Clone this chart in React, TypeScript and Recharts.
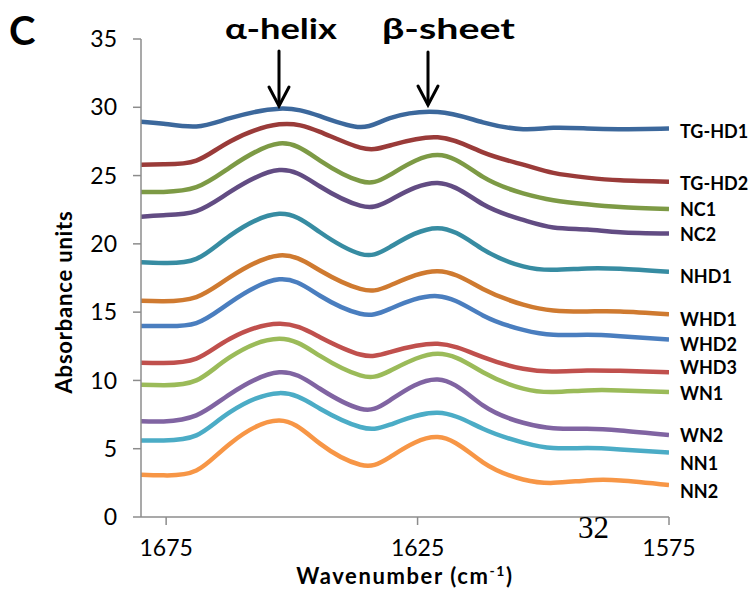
import React from 'react';
import { LineChart, Line, XAxis, YAxis } from 'recharts';

const wavenumbers = [1680, 1675.5, 1669, 1662.3, 1652.5, 1644.4, 1636.4, 1630.5, 1621, 1612, 1604, 1598, 1591.3, 1584.7, 1575];

const seriesNames = ['TG-HD1', 'TG-HD2', 'NC1', 'NC2', 'NHD1', 'WHD1', 'WHD2', 'WHD3', 'WN1', 'WN2', 'NN1', 'NN2'];

const tgHd1 = [28.95, 28.8, 28.6, 29.2, 29.9, 29.35, 28.55, 29.2, 29.65, 28.9, 28.4, 28.5, 28.45, 28.4, 28.45];
const tgHd2 = [25.8, 25.83, 26.1, 27.5, 28.75, 28.2, 27.05, 27.2, 27.8, 26.7, 25.8, 25.2, 24.85, 24.65, 24.55];
const nc1 = [23.8, 23.8, 24.15, 25.6, 27.35, 26.1, 24.6, 25.05, 26.5, 24.9, 23.7, 23.2, 22.9, 22.7, 22.55];
const nc2 = [21.98, 22.1, 22.4, 23.8, 25.4, 24.2, 22.8, 23.2, 24.46, 22.9, 21.75, 21.2, 21.05, 20.85, 20.75];
const nhd1 = [18.66, 18.6, 18.9, 20.6, 22.2, 20.85, 19.27, 19.76, 21.15, 19.6, 18.35, 18.1, 18.2, 18.17, 17.95];
const whd1 = [15.83, 15.8, 16.1, 17.56, 19.15, 18.05, 16.7, 16.95, 18.0, 16.7, 15.55, 15.12, 15.05, 15.05, 14.85];
const whd2 = [13.98, 13.98, 14.2, 15.7, 17.4, 16.2, 14.88, 15.24, 16.17, 14.76, 13.7, 13.34, 13.34, 13.24, 13.0];
const whd3 = [11.3, 11.28, 11.6, 13.05, 14.15, 13.17, 11.9, 12.07, 12.68, 11.7, 10.85, 10.66, 10.73, 10.7, 10.6];
const wn1 = [9.68, 9.65, 10.0, 11.7, 13.05, 11.8, 10.37, 10.7, 11.95, 10.6, 9.4, 9.15, 9.27, 9.27, 9.15];
const wn2 = [7.02, 7.0, 7.44, 9.0, 10.6, 9.39, 7.93, 8.54, 10.07, 8.17, 6.9, 6.5, 6.46, 6.34, 6.0];
const nn1 = [5.61, 5.61, 5.98, 7.68, 9.07, 7.93, 6.59, 6.76, 7.63, 6.46, 5.45, 5.05, 5.05, 4.95, 4.72];
const nn2 = [3.1, 3.05, 3.4, 5.37, 7.07, 5.37, 3.83, 4.39, 5.85, 4.0, 2.75, 2.5, 2.68, 2.68, 2.35];

const seriesValues = [tgHd1, tgHd2, nc1, nc2, nhd1, whd1, whd2, whd3, wn1, wn2, nn1, nn2];

const xTicks = [1675, 1625, 1575];
const yTicks = [0, 5, 10, 15, 20, 25, 30, 35];

const colors = ['#3C689C', '#9A3B39', '#7D9A45', '#624C83', '#378CA2', '#CF7A30', '#4A7EBF', '#C0504D', '#9BBB59', '#8064A2', '#4BACC6', '#F79646'];
const labelDy = [3, 1, 0, 0, 4, 5, 5, -5, 1, 0, 10, 6];

const FONT = "Lato, 'Open Sans', sans-serif";

const data = wavenumbers.map((w, i) => {
  const row: Record<string, number> = { w };
  seriesNames.forEach((n, s) => {
    row[n] = seriesValues[s][i];
  });
  return row;
});

const lastIndex = wavenumbers.length - 1;

const makeEndLabel = (name: string, dy: number) => (props: any) => {
  if (props.index !== lastIndex) return <g />;
  return (
    <text
      x={props.x + 11}
      y={props.y + dy}
      dominantBaseline="central"
      fontFamily={FONT}
      fontWeight="bold"
      fontSize={18}
      fill="#000"
    >
      {name}
    </text>
  );
};

const YTitle = () => (
  <text
    x={63}
    y={302}
    transform="rotate(-90 63 302)"
    textAnchor="middle"
    dominantBaseline="central"
    fontFamily={FONT}
    fontWeight="bold"
    fontSize={22}
    letterSpacing={0.8}
    fill="#000"
  >
    Absorbance units
  </text>
);

const XTitle = () => (
  <text
    x={405}
    y={584}
    textAnchor="middle"
    fontFamily={FONT}
    fontWeight="bold"
    fontSize={22}
    letterSpacing={1.6}
    fill="#000"
  >
    Wavenumber (cm
    <tspan dy={-8} fontSize={14}>-1</tspan>
    <tspan dy={8}>)</tspan>
  </text>
);

export default function App() {
  return (
    <div style={{ position: 'absolute', left: 0, top: 0, width: 753, height: 606, background: '#fff' }}>
      <LineChart
        width={753}
        height={606}
        data={data}
        margin={{ top: 39, right: 84, bottom: 29, left: 0 }}
      >
        <XAxis
          type="number"
          dataKey="w"
          domain={[1575, 1680]}
          reversed
          allowDataOverflow
          ticks={xTicks}
          height={60}
          tickSize={8}
          tickMargin={15}
          axisLine={{ stroke: '#8C8C8C', strokeWidth: 1.5 }}
          tickLine={{ stroke: '#8C8C8C', strokeWidth: 1.5 }}
          tick={{ fontSize: 23, fill: '#000', fontFamily: FONT }}
          label={<XTitle />}
        />
        <YAxis
          type="number"
          domain={[0, 35]}
          ticks={yTicks}
          width={141}
          tickSize={8}
          tickMargin={16}
          axisLine={{ stroke: '#8C8C8C', strokeWidth: 1.5 }}
          tickLine={{ stroke: '#8C8C8C', strokeWidth: 1.5 }}
          tick={{ fontSize: 23, fill: '#000', fontFamily: FONT }}
          label={<YTitle />}
        />
        {seriesNames.map((name, s) => (
          <Line
            key={name}
            type="natural"
            dataKey={name}
            stroke={colors[s]}
            strokeWidth={4.5}
            dot={false}
            activeDot={false}
            isAnimationActive={false}
            label={makeEndLabel(name, labelDy[s])}
          />
        ))}
      </LineChart>
      <svg
        width={753}
        height={606}
        style={{ position: 'absolute', left: 0, top: 0, pointerEvents: 'none' }}
      >
        <text x={9} y={45} fontFamily={FONT} fontWeight="bold" fontSize={40} fill="#000">C</text>
        <text x={225} y={39} fontFamily={FONT} fontWeight="bold" fontSize={29} textLength={112} lengthAdjust="spacingAndGlyphs" fill="#000">α-helix</text>
        <text x={382} y={39} fontFamily={FONT} fontWeight="bold" fontSize={29} textLength={133} lengthAdjust="spacingAndGlyphs" fill="#000">β-sheet</text>
        <g stroke="#000" strokeWidth={3} fill="none" strokeLinecap="round" strokeLinejoin="miter">
          <line x1={279} y1={51} x2={279} y2={105} />
          <polyline points="269,87 279,106 289,87" />
          <line x1={428} y1={52} x2={428} y2={104} />
          <polyline points="418,86 428,105 438,86" />
        </g>
        <text x={578} y={538} fontFamily="'Liberation Serif', 'DejaVu Serif', serif" fontSize={31} fill="#000">32</text>
      </svg>
    </div>
  );
}
